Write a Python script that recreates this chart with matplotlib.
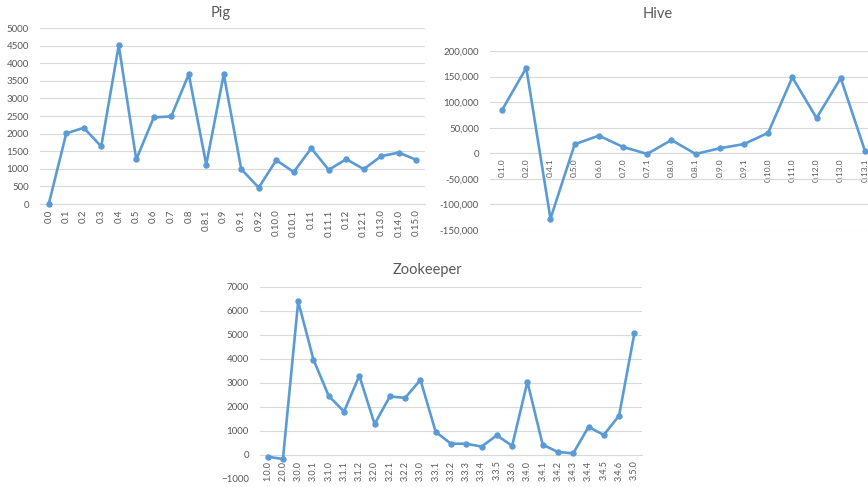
import matplotlib
matplotlib.use("Agg")
from matplotlib import pyplot as plt
from matplotlib.ticker import FuncFormatter, MultipleLocator

# Pig releases
pig_versions = ['0.0', '0.1', '0.2', '0.3', '0.4', '0.5', '0.6', '0.7', '0.8', '0.8.1',
                '0.9', '0.9.1', '0.9.2', '0.10.0', '0.10.1', '0.11', '0.11.1', '0.12',
                '0.12.1', '0.13.0', '0.14.0', '0.15.0']
pig_values = [0, 2005, 2165, 1635, 4510, 1265, 2460, 2490, 3685, 1120,
              3685, 990, 465, 1245, 910, 1585, 970, 1275, 990, 1360, 1460, 1255]

# Hive releases
hive_versions = ['0.1.0', '0.2.0', '0.4.1', '0.5.0', '0.6.0', '0.7.0', '0.7.1', '0.8.0',
                 '0.8.1', '0.9.0', '0.9.1', '0.10.0', '0.11.0', '0.12.0', '0.13.0', '0.13.1']
hive_values = [84700, 167000, -128000, 17600, 34500, 12400, -1300, 26000,
               -1300, 9800, 18000, 40000, 148500, 69000, 147000, 5000]

# Zookeeper releases
zk_versions = ['1.0.0', '2.0.0', '3.0.0', '3.0.1', '3.1.0', '3.1.1', '3.1.2', '3.2.0',
               '3.2.1', '3.2.2', '3.3.0', '3.3.1', '3.3.2', '3.3.3', '3.3.4', '3.3.5',
               '3.3.6', '3.4.0', '3.4.1', '3.4.2', '3.4.3', '3.4.4', '3.4.5', '3.4.6',
               '3.5.0']
zk_values = [-70, -170, 6400, 3970, 2460, 1810, 3300, 1290,
             2440, 2380, 3130, 960, 470, 470, 350, 820,
             380, 3050, 430, 125, 70, 1170, 835, 1640, 5070]

BLUE = '#5B9BD5'
GRID = '#D9D9D9'
TEXT = '#595959'

plt.rcParams['font.family'] = ['Lato', 'DejaVu Sans']


def drawPanel(ax, labels, values, ylim, step, title, title_xy, fmt=None, xsize=6):
    x = list(range(len(labels)))
    ax.plot(x, values, color=BLUE, lw=1.9, marker='o', ms=3.6, clip_on=False, zorder=3)
    ax.set_xlim(-0.5, len(labels) - 0.5)
    ax.set_ylim(*ylim)
    ax.yaxis.set_major_locator(MultipleLocator(step))
    if fmt:
        ax.yaxis.set_major_formatter(FuncFormatter(fmt))
    ax.grid(axis='y', color=GRID, lw=0.8)
    ax.set_axisbelow(True)
    for s in ['top', 'right', 'left']:
        ax.spines[s].set_visible(False)
    # category axis crosses at zero, like the spreadsheet charts
    ax.spines['bottom'].set_position(('data', 0))
    ax.spines['bottom'].set_color(GRID)
    ax.set_xticks(x)
    ax.set_xticklabels(labels, rotation=90, fontsize=xsize, color=TEXT)
    ax.tick_params(axis='both', length=0)
    ax.tick_params(axis='y', labelsize=7, labelcolor=TEXT, pad=8)
    ax.tick_params(axis='x', pad=4)
    ax.figure.text(title_xy[0], title_xy[1], title, ha='center', va='center',
                   fontsize=10.5, color=TEXT)


fig = plt.figure(figsize=(8.68, 4.87), dpi=100)
W, H = 868, 487


def box(l, r, t, b):
    return [l / W, 1 - b / H, (r - l) / W, (b - t) / H]


ax1 = fig.add_axes(box(40, 425, 28, 204))
drawPanel(ax1, pig_versions, pig_values, (0, 5000), 500, 'Pig', (221 / W, 1 - 13 / H),
          xsize=7)

ax2 = fig.add_axes(box(490, 877, 51, 230))
drawPanel(ax2, hive_versions, hive_values, (-150000, 200000), 50000, 'Hive',
          (658 / W, 1 - 14 / H), fmt=lambda v, p: f'{v:,.0f}', xsize=6)

ax3 = fig.add_axes(box(260, 642, 287, 479))
drawPanel(ax3, zk_versions, zk_values, (-1000, 7000), 1000, 'Zookeeper',
          (427 / W, 1 - 270 / H), xsize=6.5)

fig.savefig('out.png', dpi=100)
